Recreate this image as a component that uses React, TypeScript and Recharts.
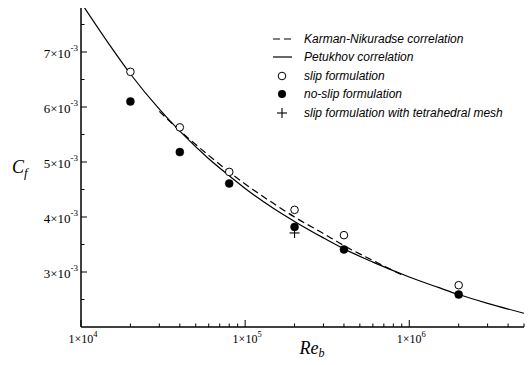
import React from 'react';
import {
  ComposedChart,
  Line,
  Scatter,
  XAxis,
  YAxis,
  Legend,
} from 'recharts';

// Petukhov correlation curve
const PETUKHOV_RE = [1e4, 1.5e4, 2e4, 3e4, 4e4, 6e4, 8e4, 1e5, 1.5e5, 2e5, 3e5, 4e5, 6e5, 1e6, 1.5e6, 2e6, 3e6, 5e6];
const PETUKHOV_CF = [7.9, 7.12, 6.6, 5.96, 5.56, 5.06, 4.75, 4.52, 4.15, 3.92, 3.62, 3.42, 3.18, 2.91, 2.72, 2.59, 2.43, 2.25];

// Karman-Nikuradse correlation curve
const KARMAN_RE = [3e4, 4e4, 6e4, 8e4, 1e5, 1.5e5, 2e5, 3e5, 4e5, 6e5, 9e5];
const KARMAN_CF = [5.92, 5.57, 5.12, 4.82, 4.6, 4.24, 4.0, 3.7, 3.48, 3.21, 2.95];

// simulation results
const CASE_RE = [2e4, 4e4, 8e4, 2e5, 4e5, 2e6];
const SLIP_CF = [6.64, 5.63, 4.82, 4.13, 3.67, 2.76];
const NOSLIP_CF = [6.1, 5.18, 4.61, 3.82, 3.41, 2.59];
const TETRA_RE = [2e5];
const TETRA_CF = [3.71];

const X_TICKS = [1e4, 2e4, 3e4, 4e4, 5e4, 6e4, 7e4, 8e4, 9e4, 1e5, 2e5, 3e5, 4e5, 5e5, 6e5, 7e5, 8e5, 9e5, 1e6, 2e6, 3e6, 4e6, 5e6];
const X_LABELS = [
  { value: 1e4, base: '1×10', exp: '4' },
  { value: 1e5, base: '1×10', exp: '5' },
  { value: 1e6, base: '1×10', exp: '6' },
];
const Y_TICKS = [0.0025, 0.003, 0.0035, 0.004, 0.0045, 0.005, 0.0055, 0.006, 0.0065, 0.007, 0.0075];
const Y_LABELS = [
  { value: 0.003, base: '3×10', exp: '-3' },
  { value: 0.004, base: '4×10', exp: '-3' },
  { value: 0.005, base: '5×10', exp: '-3' },
  { value: 0.006, base: '6×10', exp: '-3' },
  { value: 0.007, base: '7×10', exp: '-3' },
];

const toPoints = (re: number[], cf: number[]) =>
  re.map((r, i) => ({ re: r, cf: cf[i] / 1000 }));

const petukhov = toPoints(PETUKHOV_RE, PETUKHOV_CF);
const karman = toPoints(KARMAN_RE, KARMAN_CF);
const slip = toPoints(CASE_RE, SLIP_CF);
const noslip = toPoints(CASE_RE, NOSLIP_CF);
const tetra = toPoints(TETRA_RE, TETRA_CF);

const SERIF = '"Liberation Serif", "Times New Roman", serif';
const SANS = '"Liberation Sans", Arial, sans-serif';

const XTick = (props: any) => {
  const { x, y, payload } = props;
  const label = X_LABELS.find((l) => Math.abs(l.value - payload.value) < 1);
  return (
    <g>
      <line x1={x} y1={y} x2={x} y2={y - (label ? 7 : 3.5)} stroke="#000" strokeWidth={1} />
      {label && (
        <text x={x + 2} y={y + 16} textAnchor="middle" fontFamily={SERIF} fontSize={12} fill="#000">
          {label.base}
          <tspan dy={-6} fontSize={8.5}>{label.exp}</tspan>
        </text>
      )}
    </g>
  );
};

const YTick = (props: any) => {
  const { x, y, payload } = props;
  const label = Y_LABELS.find((l) => Math.abs(l.value - payload.value) < 1e-6);
  return (
    <g>
      <line x1={x} y1={y} x2={x + (label ? 6 : 3.5)} y2={y} stroke="#000" strokeWidth={1} />
      {label && (
        <text x={x - 3} y={y + 6} textAnchor="end" fontFamily={SERIF} fontSize={13} fill="#000">
          {label.base}
          <tspan dy={-7} fontSize={9}>{label.exp}</tspan>
        </text>
      )}
    </g>
  );
};

const ReLabel = (props: any) => {
  const { x, y, width } = props.viewBox;
  return (
    <text x={x + width / 2 - 3} y={y + 27} fontFamily={SERIF} fontStyle="italic" fontSize={18} fill="#000">
      Re
      <tspan dy={3} fontSize={12}>b</tspan>
    </text>
  );
};

const CfLabel = (props: any) => {
  const { y, height } = props.viewBox;
  return (
    <text x={12} y={y + height / 2 + 5} fontFamily={SERIF} fontStyle="italic" fontSize={18} fill="#000">
      C
      <tspan dy={4} fontSize={13}>f</tspan>
    </text>
  );
};

const OpenDot = (props: any) => (
  <circle cx={props.cx} cy={props.cy} r={3.8} fill="#fff" stroke="#000" strokeWidth={1} />
);
const FilledDot = (props: any) => (
  <circle cx={props.cx} cy={props.cy} r={4} fill="#000" stroke="#000" strokeWidth={0.5} />
);
const Cross = (props: any) => (
  <g stroke="#000" strokeWidth={1.1}>
    <line x1={props.cx - 5} y1={props.cy} x2={props.cx + 5} y2={props.cy} />
    <line x1={props.cx} y1={props.cy - 5} x2={props.cx} y2={props.cy + 5} />
  </g>
);

const LEGEND_ROWS = [
  { kind: 'dash', text: 'Karman-Nikuradse correlation' },
  { kind: 'solid', text: 'Petukhov correlation' },
  { kind: 'open', text: 'slip formulation' },
  { kind: 'filled', text: 'no-slip formulation' },
  { kind: 'plus', text: 'slip formulation with tetrahedral mesh' },
];

const LegendIcon = ({ kind }: { kind: string }) => (
  <svg width={34} height={18} style={{ display: 'block' }}>
    {kind === 'dash' && <line x1={3} y1={9} x2={22} y2={9} stroke="#000" strokeWidth={1.2} strokeDasharray="7 4" />}
    {kind === 'solid' && <line x1={3} y1={9} x2={22} y2={9} stroke="#000" strokeWidth={1.2} />}
    {kind === 'open' && <circle cx={12} cy={9} r={3.8} fill="#fff" stroke="#000" />}
    {kind === 'filled' && <circle cx={12} cy={9} r={4} fill="#000" />}
    {kind === 'plus' && (
      <g stroke="#000" strokeWidth={1.1}>
        <line x1={7} y1={9} x2={17} y2={9} />
        <line x1={12} y1={4} x2={12} y2={14} />
      </g>
    )}
  </svg>
);

const LegendBox = () => (
  <div>
    {LEGEND_ROWS.map((row) => (
      <div key={row.text} style={{ display: 'flex', alignItems: 'center', height: 18.4 }}>
        <LegendIcon kind={row.kind} />
        <span style={{ fontFamily: SANS, fontStyle: 'italic', fontSize: 12, color: '#000', whiteSpace: 'nowrap' }}>
          {row.text}
        </span>
      </div>
    ))}
  </div>
);

export default function App() {
  return (
    <div style={{ position: 'absolute', left: 0, top: 0, background: '#fff' }}>
      <ComposedChart width={532} height={365} margin={{ top: 8, right: 8, left: 0, bottom: 0 }}>
        <XAxis
          dataKey="re"
          type="number"
          scale="log"
          domain={[1e4, 5e6]}
          allowDataOverflow
          ticks={X_TICKS}
          interval={0}
          tick={<XTick />}
          tickLine={false}
          tickSize={0}
          tickMargin={0}
          height={38}
          axisLine={{ stroke: '#000', strokeWidth: 1.5 }}
          label={<ReLabel />}
        />
        <YAxis
          dataKey="cf"
          type="number"
          domain={[0.002, 0.0078]}
          allowDataOverflow
          ticks={Y_TICKS}
          interval={0}
          tick={<YTick />}
          tickLine={false}
          tickSize={0}
          tickMargin={0}
          width={81}
          axisLine={{ stroke: '#000', strokeWidth: 1.5 }}
          label={<CfLabel />}
        />
        <Legend
          content={<LegendBox />}
          layout="vertical"
          align="center"
          verticalAlign="middle"
          wrapperStyle={{ left: 270, top: 29.8, width: 260, height: 95 }}
        />
        <Line
          data={karman}
          dataKey="cf"
          type="monotone"
          stroke="#000"
          strokeWidth={1.2}
          strokeDasharray="7 4"
          dot={false}
          isAnimationActive={false}
        />
        <Line
          data={petukhov}
          dataKey="cf"
          type="monotone"
          stroke="#000"
          strokeWidth={1.2}
          dot={false}
          isAnimationActive={false}
        />
        <Scatter data={tetra} shape={<Cross />} isAnimationActive={false} />
        <Scatter data={noslip} shape={<FilledDot />} isAnimationActive={false} />
        <Scatter data={slip} shape={<OpenDot />} isAnimationActive={false} />
      </ComposedChart>
    </div>
  );
}
